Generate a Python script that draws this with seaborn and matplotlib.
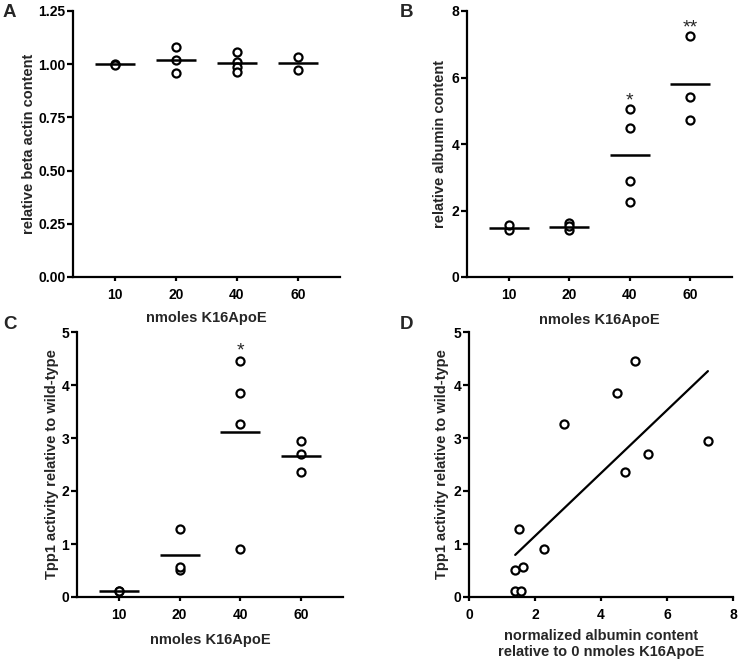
import numpy as np
import pandas as pd
import matplotlib
matplotlib.use("Agg")
import matplotlib.pyplot as plt
import seaborn as sns

doses = ["10", "20", "40", "60"]

# A: relative beta actin content per dose
actin = [[1.003, 0.997],
         [1.083, 1.02, 0.96],
         [1.055, 1.01, 0.985, 0.965],
         [1.033, 0.975]]

# B: relative albumin content per dose (same animals as C)
albumin = [[1.40, 1.57],
           [1.40, 1.63, 1.52],
           [2.27, 2.89, 4.47, 5.04],
           [4.72, 5.42, 7.24]]

# C: Tpp1 activity relative to wild-type per dose
tpp1 = [[0.12, 0.11],
        [0.51, 0.57, 1.29],
        [0.90, 3.27, 3.85, 4.45],
        [2.35, 2.69, 2.94]]

stars_b = {"40": "*", "60": "**"}
stars_c = {"40": "*"}

sns.set_style("ticks")
plt.rcParams["font.family"] = ["Liberation Sans", "DejaVu Sans"]
plt.rcParams["font.weight"] = "bold"
plt.rcParams["axes.labelweight"] = "bold"
plt.rcParams["axes.linewidth"] = 1.6
plt.rcParams["axes.edgecolor"] = "black"
plt.rcParams["xtick.color"] = "black"
plt.rcParams["ytick.color"] = "black"

fig = plt.figure(figsize=(7.39, 6.61), dpi=100)
W, H = 739, 661


def box(left, right, top, bottom):
    return [left / W, 1 - bottom / H, (right - left) / W, (bottom - top) / H]


ax_a = fig.add_axes(box(73, 340, 11, 277))
ax_b = fig.add_axes(box(467, 732, 11, 277))
ax_c = fig.add_axes(box(77, 343, 332, 597))
ax_d = fig.add_axes(box(469, 733, 332, 597))


def dot_panel(ax, groups, stars=None, star_off=11):
    df = pd.DataFrame({"dose": np.repeat(doses, [len(g) for g in groups]),
                       "value": np.concatenate(groups)})
    sns.stripplot(data=df, x="dose", y="value", order=doses, jitter=False,
                  size=5.8, color="white", edgecolor="black", linewidth=1.6,
                  ax=ax, zorder=3)
    means = df.groupby("dose")["value"].mean().reindex(doses)
    pos = np.arange(len(doses))
    ax.hlines(means.values, pos - 0.33, pos + 0.33, color="black", lw=1.8, zorder=4)
    if stars:
        for d, s in stars.items():
            top = df.loc[df["dose"] == d, "value"].max()
            ax.annotate(s, (doses.index(d), top), xytext=(0, star_off),
                        textcoords="offset points", ha="center", va="center",
                        fontsize=14, fontweight="normal")
    ax.set_xlim(-0.69, 3.69)
    ax.set_xlabel("nmoles K16ApoE", fontsize=10.5)


dot_panel(ax_a, actin)
ax_a.set_ylim(0, 1.25)
ax_a.set_yticks([0, 0.25, 0.5, 0.75, 1.0, 1.25])
ax_a.set_yticklabels(["0.00", "0.25", "0.50", "0.75", "1.00", "1.25"])
ax_a.set_ylabel("relative beta actin content", fontsize=10.5)

dot_panel(ax_b, albumin, stars_b, star_off=6)
ax_b.set_ylim(0, 8)
ax_b.set_yticks([0, 2, 4, 6, 8])
ax_b.set_ylabel("relative albumin content", fontsize=10.5)

dot_panel(ax_c, tpp1, stars_c, star_off=7)
ax_c.set_ylim(0, 5)
ax_c.set_yticks([0, 1, 2, 3, 4, 5])
ax_c.set_ylabel("Tpp1 activity relative to wild-type", fontsize=10.5)

# D: Tpp1 activity vs albumin content with linear fit
alb_all = np.concatenate(albumin)
tpp_all = np.concatenate(tpp1)
sns.scatterplot(x=alb_all, y=tpp_all, s=34, color="white", edgecolor="black",
                linewidth=1.6, ax=ax_d, zorder=3)
sns.regplot(x=alb_all, y=tpp_all, scatter=False, ci=None, truncate=True,
            color="black", line_kws={"lw": 1.6}, ax=ax_d)
ax_d.set_xlim(0, 8)
ax_d.set_ylim(0, 5)
ax_d.set_xticks([0, 2, 4, 6, 8])
ax_d.set_yticks([0, 1, 2, 3, 4, 5])
ax_d.set_xlabel("normalized albumin content\nrelative to 0 nmoles K16ApoE", fontsize=10.5)
ax_d.set_ylabel("Tpp1 activity relative to wild-type", fontsize=10.5)

for ax in [ax_a, ax_b, ax_c, ax_d]:
    sns.despine(ax=ax)
    ax.tick_params(axis="both", width=1.6, labelsize=10)
    ax.tick_params(axis="x", length=3, pad=5)
    ax.tick_params(axis="y", length=4, pad=1.5)

ax_a.yaxis.set_label_coords(-0.139, 0.5)
ax_b.yaxis.set_label_coords(-0.074, 0.5)
ax_c.yaxis.set_label_coords(-0.068, 0.5)
ax_d.yaxis.set_label_coords(-0.077, 0.5)
ax_a.xaxis.set_label_coords(0.5, -0.128)
ax_b.xaxis.set_label_coords(0.5, -0.135)
ax_c.xaxis.set_label_coords(0.5, -0.134)
ax_d.xaxis.set_label_coords(0.5, -0.12)

for letter, x, y in [("A", 3, 4), ("B", 400, 4), ("C", 3, 316), ("D", 400, 316)]:
    fig.text(x / W, 1 - y / H, letter, fontsize=13.5, fontweight="bold",
             ha="left", va="top")

fig.savefig("out.png", dpi=100)
